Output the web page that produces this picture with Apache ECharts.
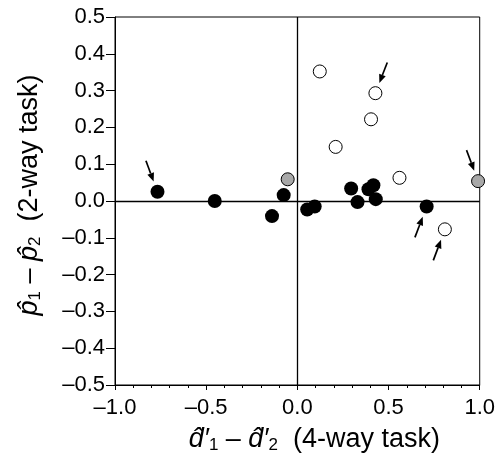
<!DOCTYPE html>
<html>
<head>
<meta charset="utf-8">
<script src="https://cdn.jsdelivr.net/npm/echarts@6/dist/echarts.min.js"></script>
<style>
  html, body { margin: 0; padding: 0; background: #fff; }
  #chart { width: 498px; height: 463px; }
</style>
</head>
<body>
<div id="chart"></div>
<script>
// Difference in d' (4-way task) against difference in proportion correct (2-way task)
const filledX = [-0.767, -0.453, -0.139, -0.075, 0.054, 0.095, 0.295, 0.330, 0.390, 0.417, 0.430, 0.709];
const filledY = [0.025, 0.000, -0.041, 0.016, -0.023, -0.015, 0.034, -0.003, 0.032, 0.043, 0.005, -0.015];
const openX = [0.123, 0.428, 0.404, 0.210, 0.560, 0.809];
const openY = [0.352, 0.293, 0.222, 0.147, 0.063, -0.077];
const grayX = [-0.053, 0.991];
const grayY = [0.059, 0.054];

// Highlighted points (group + index) and the direction their arrow comes from
const arrowTargets = [
  { group: 'filled', index: 0,  dir: [-0.35, -0.94] },
  { group: 'open',   index: 1,  dir: [0.36, -0.93] },
  { group: 'gray',   index: 1,  dir: [-0.35, -0.94] },
  { group: 'filled', index: 11, dir: [-0.355, 0.935] },
  { group: 'open',   index: 5,  dir: [-0.35, 0.94] }
];

const xRange = [-1.0, 1.0];
const yRange = [-0.5, 0.5];

const groups = {
  filled: filledX.map((x, i) => [x, filledY[i]]),
  open: openX.map((x, i) => [x, openY[i]]),
  gray: grayX.map((x, i) => [x, grayY[i]])
};

const arrowData = arrowTargets.map(a => {
  const p = groups[a.group][a.index];
  return [p[0], p[1], a.dir[0], a.dir[1]];
});

const FONT = '"Liberation Sans", Arial, Helvetica, sans-serif';
const fmt = v => (v < 0 ? '\u2013' : '') + Math.abs(v).toFixed(1);

const titleRich = {
  i: { fontFamily: FONT, fontStyle: 'italic', fontSize: 27, color: '#000' },
  s: { fontFamily: FONT, fontSize: 17, color: '#000', padding: [12, 0, 0, 0] },
  t: { fontFamily: FONT, fontSize: 27, color: '#000' }
};

const chart = echarts.init(document.getElementById('chart'), null, { renderer: 'canvas' });

chart.setOption({
  animation: false,
  backgroundColor: '#fff',
  grid: {
    left: 115, right: 16, top: 17, bottom: 78,
    show: true, borderColor: '#000', borderWidth: 1, backgroundColor: 'transparent'
  },
  xAxis: {
    type: 'value', min: xRange[0], max: xRange[1], interval: 0.5,
    name: '{i|d\u0302\u2032}{s|1}{t| \u2013 }{i|d\u0302\u2032}{s|2}{t|  (4-way task)}',
    nameLocation: 'middle', nameGap: 40,
    nameTextStyle: { rich: titleRich, padding: [0, 0, 0, 34] },
    axisLine: { onZero: false, lineStyle: { color: '#000', width: 1 } },
    axisTick: { show: true, inside: false, length: 5, lineStyle: { color: '#000', width: 1 } },
    minorTick: { show: true, splitNumber: 5, length: 3, lineStyle: { color: '#000', width: 1 } },
    axisLabel: { formatter: fmt, color: '#000', fontSize: 22, fontFamily: FONT, margin: 12 },
    splitLine: { show: false }
  },
  yAxis: {
    type: 'value', min: yRange[0], max: yRange[1], interval: 0.1,
    name: '{i|p\u0302}{s|1}{t| \u2013 }{i|p\u0302}{s|2}{t|  (2-way task)}',
    nameLocation: 'middle', nameGap: 71, nameRotate: 90,
    nameTextStyle: { rich: titleRich, padding: [0, 0, 0, 12] },
    axisLine: { onZero: false, lineStyle: { color: '#000', width: 1 } },
    axisTick: { show: true, inside: false, length: 9, lineStyle: { color: '#000', width: 1 } },
    axisLabel: { formatter: fmt, color: '#000', fontSize: 22, fontFamily: FONT, margin: 10 },
    splitLine: { show: false }
  },
  series: [
    {
      // zero reference lines
      type: 'line', data: [], z: 1,
      markLine: {
        silent: true, symbol: 'none', label: { show: false },
        lineStyle: { color: '#000', width: 1.3, type: 'solid' },
        data: [{ xAxis: 0 }, { yAxis: 0 }]
      }
    },
    {
      type: 'scatter', data: groups.filled, symbolSize: 14, z: 3,
      itemStyle: { color: '#000', borderColor: '#000', borderWidth: 0, opacity: 1 }
    },
    {
      type: 'scatter', data: groups.open, symbolSize: 13, z: 3,
      itemStyle: { color: '#fff', borderColor: '#000', borderWidth: 1, opacity: 1 }
    },
    {
      type: 'scatter', data: groups.gray, symbolSize: 13, z: 3,
      itemStyle: { color: '#a8a8a8', borderColor: '#000', borderWidth: 1, opacity: 1 }
    },
    {
      // arrows pointing at highlighted points
      type: 'custom', data: arrowData, z: 4, clip: false,
      encode: { x: 0, y: 1 },
      renderItem: (params, api) => {
        const c = api.coord([api.value(0), api.value(1)]);
        const d = [api.value(2), api.value(3)];
        const tipDist = 11, tailDist = 33, headLen = 8.5, headHalf = 3.5;
        const tip = [c[0] + d[0] * tipDist, c[1] + d[1] * tipDist];
        const tail = [c[0] + d[0] * tailDist, c[1] + d[1] * tailDist];
        const base = [tip[0] + d[0] * headLen, tip[1] + d[1] * headLen];
        const perp = [-d[1], d[0]];
        return {
          type: 'group',
          children: [
            {
              type: 'line',
              shape: { x1: tail[0], y1: tail[1], x2: base[0], y2: base[1] },
              style: { stroke: '#000', lineWidth: 1.7 }
            },
            {
              type: 'polygon',
              shape: { points: [tip, [base[0] + perp[0] * headHalf, base[1] + perp[1] * headHalf], [base[0] - perp[0] * headHalf, base[1] - perp[1] * headHalf]] },
              style: { fill: '#000' }
            }
          ]
        };
      }
    }
  ]
});
</script>
</body>
</html>
